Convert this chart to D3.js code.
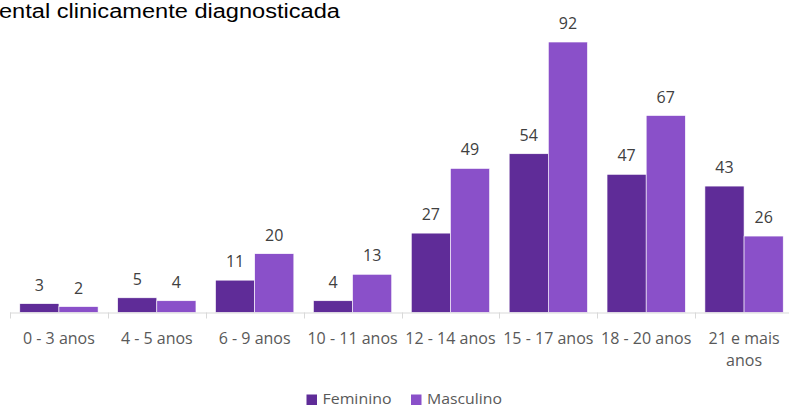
<!DOCTYPE html>
<html>
<head>
<meta charset="utf-8">
<script src="https://cdn.jsdelivr.net/npm/d3@7"></script>
<style>
    body { margin: 0; background: #fff; }
    text { font-family: "Open Sans", sans-serif; }
</style>
</head>
<body>
<div id="chart"></div>
<script>
const WIDTH = 789;
const HEIGHT = 408;

const categories = ["0 - 3 anos", "4 - 5 anos", "6 - 9 anos", "10 - 11 anos",
    "12 - 14 anos", "15 - 17 anos", "18 - 20 anos", "21 e mais anos"];
const seriesNames = ["Feminino", "Masculino"];
const feminino = [3, 5, 11, 4, 27, 54, 47, 43];
const masculino = [2, 4, 20, 13, 49, 92, 67, 26];
const colors = ["#5f2c98", "#8a50c9"];
const title = "ental clinicamente diagnosticada";

const values = [feminino, masculino];

const svg = d3.select("#chart")
    .append("svg")
    .attr("width", WIDTH)
    .attr("height", HEIGHT);

// title (cut off at the left in the source)
svg.append("text")
    .attr("x", -1)
    .attr("y", 18)
    .attr("textLength", 341)
    .attr("lengthAdjust", "spacingAndGlyphs")
    .style("font-family", "'Liberation Sans', Arial, sans-serif")
    .style("font-size", "19.5px")
    .style("fill", "#000")
    .text(title);

const x0 = d3.scaleBand()
    .domain(categories)
    .range([10, 793])
    .padding(0);

const x1 = d3.scaleBand()
    .domain(seriesNames)
    .range([0, x0.bandwidth()])
    .paddingInner(0)
    .paddingOuter(0.25);

const y = d3.scaleLinear()
    .domain([0, 100])
    .range([312.5, 18.5]);

/* BARS */
const groups = svg.append("g")
    .selectAll("g")
    .data(categories)
    .join("g")
    .attr("transform", d => `translate(${x0(d)},0)`);

groups.selectAll("rect")
    .data((c, i) => seriesNames.map((s, j) => ({ s, j, v: values[j][i] })))
    .join("rect")
    .attr("x", d => x1(d.s))
    .attr("y", d => y(d.v))
    .attr("width", x1.bandwidth())
    .attr("height", d => y(0) - y(d.v))
    .style("fill", d => colors[d.j])
    .style("stroke", "#fff")
    .style("stroke-width", 0.6);

groups.selectAll("text.val")
    .data((c, i) => seriesNames.map((s, j) => ({ s, j, v: values[j][i] })))
    .join("text")
    .attr("class", "val")
    .attr("x", d => x1(d.s) + x1.bandwidth() / 2)
    .attr("y", d => y(d.v) - 13)
    .attr("text-anchor", "middle")
    .style("font-size", "16px")
    .style("fill", "#404040")
    .text(d => d.v);

/* AXIS */
const axis = svg.append("g");
axis.append("line")
    .attr("x1", x0.range()[0])
    .attr("x2", x0.range()[1])
    .attr("y1", y(0) + 0.5)
    .attr("y2", y(0) + 0.5)
    .style("stroke", "#d9d9d9")
    .style("stroke-width", 1);

axis.selectAll("line.tick")
    .data(categories.map(c => x0(c)).concat([x0.range()[1]]))
    .join("line")
    .attr("class", "tick")
    .attr("x1", d => Math.round(d) + 0.5)
    .attr("x2", d => Math.round(d) + 0.5)
    .attr("y1", y(0))
    .attr("y2", y(0) + 6)
    .style("stroke", "#d9d9d9");

const catLabels = axis.selectAll("text.cat")
    .data(categories)
    .join("text")
    .attr("class", "cat")
    .attr("x", d => x0(d) + x0.bandwidth() / 2)
    .attr("y", 344)
    .attr("text-anchor", "middle")
    .style("font-size", "16px")
    .style("fill", "#595959")
    .text(d => d);

// wrap labels wider than the band
catLabels.each(function (d) {
    const el = d3.select(this);
    if (this.getComputedTextLength() <= x0.bandwidth()) return;
    const words = d.split(" ");
    el.text(null);
    let line = [];
    let tspan = el.append("tspan").attr("x", x0(d) + x0.bandwidth() / 2).attr("dy", 0);
    for (const w of words) {
        line.push(w);
        tspan.text(line.join(" "));
        if (tspan.node().getComputedTextLength() > x0.bandwidth() - 8 && line.length > 1) {
            line.pop();
            tspan.text(line.join(" "));
            line = [w];
            tspan = el.append("tspan")
                .attr("x", x0(d) + x0.bandwidth() / 2)
                .attr("dy", 22)
                .text(w);
        }
    }
});

/* LEGEND */
const legendX = [306.5, 411];
const legendW = [69, 75];
const legend = svg.append("g")
    .selectAll("g")
    .data(seriesNames)
    .join("g")
    .attr("transform", (d, i) => `translate(${legendX[i]},0)`);

legend.append("rect")
    .attr("x", 0)
    .attr("y", 394.5)
    .attr("width", 10.5)
    .attr("height", 10.5)
    .style("fill", (d, i) => colors[i]);

legend.append("text")
    .attr("x", 16)
    .attr("y", 404)
    .attr("textLength", (d, i) => legendW[i])
    .attr("lengthAdjust", "spacingAndGlyphs")
    .style("font-size", "14.5px")
    .style("fill", "#595959")
    .text(d => d);
</script>
</body>
</html>
